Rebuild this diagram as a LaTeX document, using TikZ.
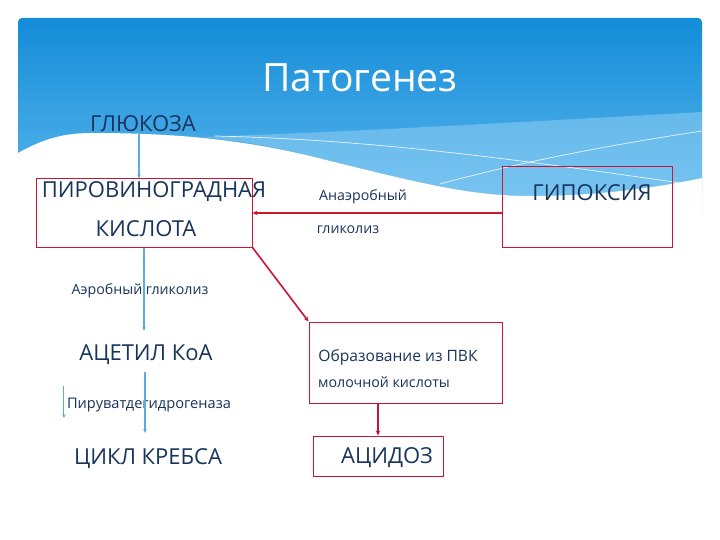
\documentclass[tikz,border=0pt]{standalone}
\usepackage{fontspec}
\setmainfont{Open Sans}
\usetikzlibrary{arrows.meta}
\definecolor{navy}{RGB}{25,52,92}
\definecolor{boxred}{RGB}{200,22,52}
\definecolor{linkblue}{RGB}{92,170,222}
\definecolor{deepblue}{RGB}{20,140,216}
\definecolor{midblue}{RGB}{95,185,238}
\definecolor{lightband}{RGB}{150,210,245}
\newcommand{\fs}[1]{\fontsize{#1}{#1}\selectfont}
\begin{document}
\begin{tikzpicture}[x=1pt,y=-1pt,
  lbl/.style={text=navy, inner sep=0pt, anchor=center},
  big/.style={lbl, font=\fs{22}},
  small/.style={lbl, font=\fs{14.2}},
  redbox/.style={draw=boxred, line width=1pt, inner sep=0pt},
  redarrow/.style={draw=boxred, line width=1.6pt, -{Stealth[length=5pt,width=4.5pt]}},
  bluearrow/.style={draw=linkblue, line width=1.2pt, -{Stealth[length=4pt,width=3.5pt]}},
  wline/.style={draw=white, line width=0.7pt, opacity=0.85}]
\useasboundingbox (0,0) rectangle (720,540);
\fill[white] (0,0) rectangle (720,540);
% blue header panel
\shade[rounded corners=4pt, top color=deepblue, bottom color=midblue] (18,18) rectangle (702,215);
% light band
\fill[lightband, opacity=0.5] (200,137) .. controls (350,132) and (520,122) .. (702,112) -- (702,178) .. controls (660,187) and (600,196) .. (530,196) .. controls (470,196) and (420,183) .. (330,161) .. controls (280,148) and (240,140) .. cycle;
% white wave
\fill[white] (18,153) .. controls (45,138) and (65,133) .. (92,133) .. controls (180,133) and (250,140) .. (330,161) .. controls (420,183) and (470,196) .. (530,196) .. controls (600,196) and (660,187) .. (702,178) -- (702,540) -- (18,540) -- cycle;
% white thin lines
\draw[wline] (215,136) .. controls (380,140) and (520,160) .. (702,186);
\draw[wline] (440,184) .. controls (520,162) and (610,145) .. (702,131);

% title
\node[inner sep=0pt, text=white, font=\fs{39}] (title) at (360,78) {Патогенез};

% left column
\node[big] (glu) at (143,124) {ГЛЮКОЗА};
\node[redbox, minimum width=216pt, minimum height=68pt] (pvk) at (144,213) {};
\node[big] (pvk1) at (154,192) {ПИРОВИНОГРАДНАЯ};
\node[big] (pvk2) at (146,229) {КИСЛОТА};
\node[small] (aer) at (140,291) {Аэробный гликолиз};
\node[big] (acetyl) at (146,355) {АЦЕТИЛ КоА};
\node[lbl, font=\fs{14.6}] (pdh) at (149,405) {Пируватдегидрогеназа};
\node[big] (krebs) at (148,459) {ЦИКЛ КРЕБСА};

% middle
\node[small] (anaer1) at (363,197) {Анаэробный};
\node[small] (anaer2) at (348,230) {гликолиз};
\node[redbox, minimum width=193pt, minimum height=81pt] (obr) at (405.5,362.5) {};
\node[lbl, font=\fs{15.6}] (obr1) at (398,357) {Образование из ПВК};
\node[small] (obr2) at (384,382) {молочной кислоты};
\node[redbox, minimum width=130pt, minimum height=40pt] (acid) at (378,456) {};
\node[big] (acid1) at (387,458) {АЦИДОЗ};

% right
\node[redbox, minimum width=170pt, minimum height=80pt] (hyp) at (587,207) {};
\node[big] (hyp1) at (592,193) {ГИПОКСИЯ};

% connectors
\draw[bluearrow] ([xshift=-4pt]glu.south |- 0,134) -- ([xshift=-4pt]glu.south |- pvk.north);
\draw[bluearrow] (pvk.south) -- ([yshift=14pt]pvk.south |- acetyl.north);
\draw[bluearrow] ([xshift=-1pt]acetyl.south |- 0,372) -- ([xshift=-1pt]acetyl.south |- 0,433);
\draw[bluearrow] ([xshift=-3pt,yshift=19pt]pdh.west) -- ([xshift=-3pt,yshift=-13pt]pdh.west);
\draw[redarrow] ([yshift=-6pt]hyp.west) -- ([yshift=-6pt]hyp.west -| pvk.east);
\draw[redarrow] (pvk.south east) -- (obr.north west);
\draw[redarrow] (acid.north |- obr.south) -- (acid.north);
\end{tikzpicture}
\end{document}
